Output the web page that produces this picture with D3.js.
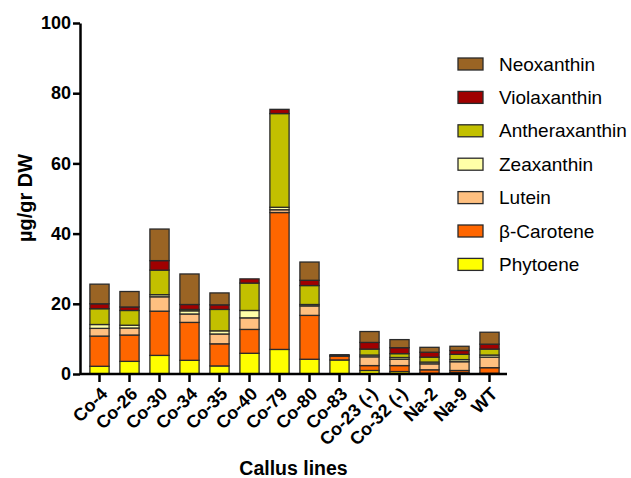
<!DOCTYPE html>
<html>
<head>
<meta charset="utf-8">
<script src="https://cdn.jsdelivr.net/npm/d3@7"></script>
<style>
  body { margin: 0; background: #fff; }
  text { font-family: "Liberation Sans", Arial, sans-serif; }
</style>
</head>
<body>
<svg id="chart" width="631" height="478"></svg>
<script>
// callus lines on the x axis
const lines = ["Co-4", "Co-26", "Co-30", "Co-34", "Co-35", "Co-40", "Co-79",
  "Co-80", "Co-83", "Co-23 (-)", "Co-32 (-)", "Na-2", "Na-9", "WT"]

// pigment contents, µg/gr DW
const phytoene       = [2.2, 3.6, 5.3, 3.9, 2.3, 5.9, 7.0, 4.2, 4.0, 1.0, 0.7, 0.2, 0.4, 0.2]
const betaCarotene   = [8.6, 7.5, 12.6, 10.8, 6.3, 6.8, 39.0, 12.5, 1.1, 1.4, 1.7, 1.0, 0.6, 1.6]
const lutein         = [2.2, 2.0, 4.1, 2.4, 2.8, 3.3, 0.8, 2.7, 0.1, 2.5, 1.8, 1.7, 2.5, 3.0]
const zeaxanthin     = [1.1, 0.8, 0.6, 0.9, 0.9, 2.1, 0.7, 0.4, 0.0, 0.5, 0.5, 0.5, 0.6, 0.6]
const antheraxanthin = [4.5, 4.2, 7.0, 0.4, 6.1, 7.8, 26.7, 5.4, 0.0, 1.7, 1.1, 1.4, 1.5, 1.7]
const violaxanthin   = [1.4, 1.0, 2.7, 1.4, 1.3, 1.2, 1.2, 1.5, 0.0, 1.9, 1.7, 1.4, 1.1, 1.4]
const neoxanthin     = [5.6, 4.4, 9.0, 8.7, 3.4, 0.0, 0.0, 5.2, 0.3, 3.1, 2.3, 1.4, 1.2, 3.4]

const yTicks = [0, 20, 40, 60, 80, 100]

// stacking order bottom -> top
const pigments = [
  {name: "Phytoene", values: phytoene, color: "#ffff00"},
  {name: "β-Carotene", values: betaCarotene, color: "#ff6600"},
  {name: "Lutein", values: lutein, color: "#ffc080"},
  {name: "Zeaxanthin", values: zeaxanthin, color: "#ffffa8"},
  {name: "Antheraxanthin", values: antheraxanthin, color: "#c2c000"},
  {name: "Violaxanthin", values: violaxanthin, color: "#a00000"},
  {name: "Neoxanthin", values: neoxanthin, color: "#9a6424"}
]

const rows = lines.map((line, i) => {
  const row = {line}
  pigments.forEach(p => { row[p.name] = p.values[i] })
  return row
})

const svg = d3.select("#chart")
const margins = {left: 80, right: 507, top: 23, bottom: 374}

const x = d3.scaleBand()
  .domain(lines)
  .range([84.5, 504.5])
  .paddingInner(0.36)
  .paddingOuter(0.18)

const y = d3.scaleLinear()
  .domain([0, 100])
  .range([margins.bottom, margins.top])

const stack = d3.stack().keys(pigments.map(p => p.name))(rows)

// bars
svg.append("g")
  .selectAll("g")
  .data(stack)
  .join("g")
  .attr("fill", (d, i) => pigments[i].color)
  .selectAll("rect")
  .data(d => d.filter(s => s[1] - s[0] > 0))
  .join("rect")
  .attr("x", d => x(d.data.line))
  .attr("width", x.bandwidth())
  .attr("y", d => y(d[1]))
  .attr("height", d => y(d[0]) - y(d[1]))
  .attr("stroke", "#2a2a2a")
  .attr("stroke-width", 1.3)

// y axis
const yAxis = svg.append("g")
  .attr("transform", `translate(${margins.left},0)`)
  .call(d3.axisLeft(y).tickValues(yTicks).tickSize(7).tickPadding(2).tickSizeOuter(0))
yAxis.select(".domain").attr("stroke-width", 2.5)
yAxis.selectAll(".tick line").attr("stroke-width", 2.5)
yAxis.selectAll("text")
  .attr("font-family", "Liberation Sans, Arial, sans-serif")
  .attr("font-size", 18)
  .attr("font-weight", "bold")
  .attr("fill", "#000")

// x axis
const xAxis = svg.append("g")
  .attr("transform", `translate(0,${margins.bottom})`)
  .call(d3.axisBottom(x).tickSize(8).tickSizeOuter(0))
xAxis.select(".domain").attr("d", `M${margins.left},0H${margins.right}`).attr("stroke-width", 2.5)
xAxis.selectAll(".tick line").attr("stroke-width", 2.5)
xAxis.selectAll("text")
  .attr("font-family", "Liberation Sans, Arial, sans-serif")
  .attr("font-size", 18)
  .attr("font-weight", "bold")
  .attr("fill", "#000")
  .attr("text-anchor", "end")
  .attr("y", 0)
  .attr("dy", 0)
  .attr("transform", "translate(9,21) rotate(-45)")

// axis titles
svg.append("text")
  .attr("transform", "translate(32,198) rotate(-90)")
  .attr("text-anchor", "middle")
  .attr("font-size", 20)
  .attr("font-weight", "bold")
  .text("µg/gr DW")

svg.append("text")
  .attr("x", (margins.left + margins.right) / 2)
  .attr("y", 475)
  .attr("text-anchor", "middle")
  .attr("font-size", 19.5)
  .attr("font-weight", "bold")
  .text("Callus lines")

// legend, top entry is the top of the stack
const legend = svg.append("g")
  .selectAll("g")
  .data(pigments.slice().reverse())
  .join("g")
  .attr("transform", (d, i) => `translate(458,${64 + i * 33.4})`)

legend.append("rect")
  .attr("x", 0)
  .attr("y", -6)
  .attr("width", 25)
  .attr("height", 12)
  .attr("fill", d => d.color)
  .attr("stroke", "#2a2a2a")
  .attr("stroke-width", 1.3)

legend.append("text")
  .attr("x", 41)
  .attr("y", 0)
  .attr("dy", "0.35em")
  .attr("font-size", 19)
  .text(d => d.name)
</script>
</body>
</html>
